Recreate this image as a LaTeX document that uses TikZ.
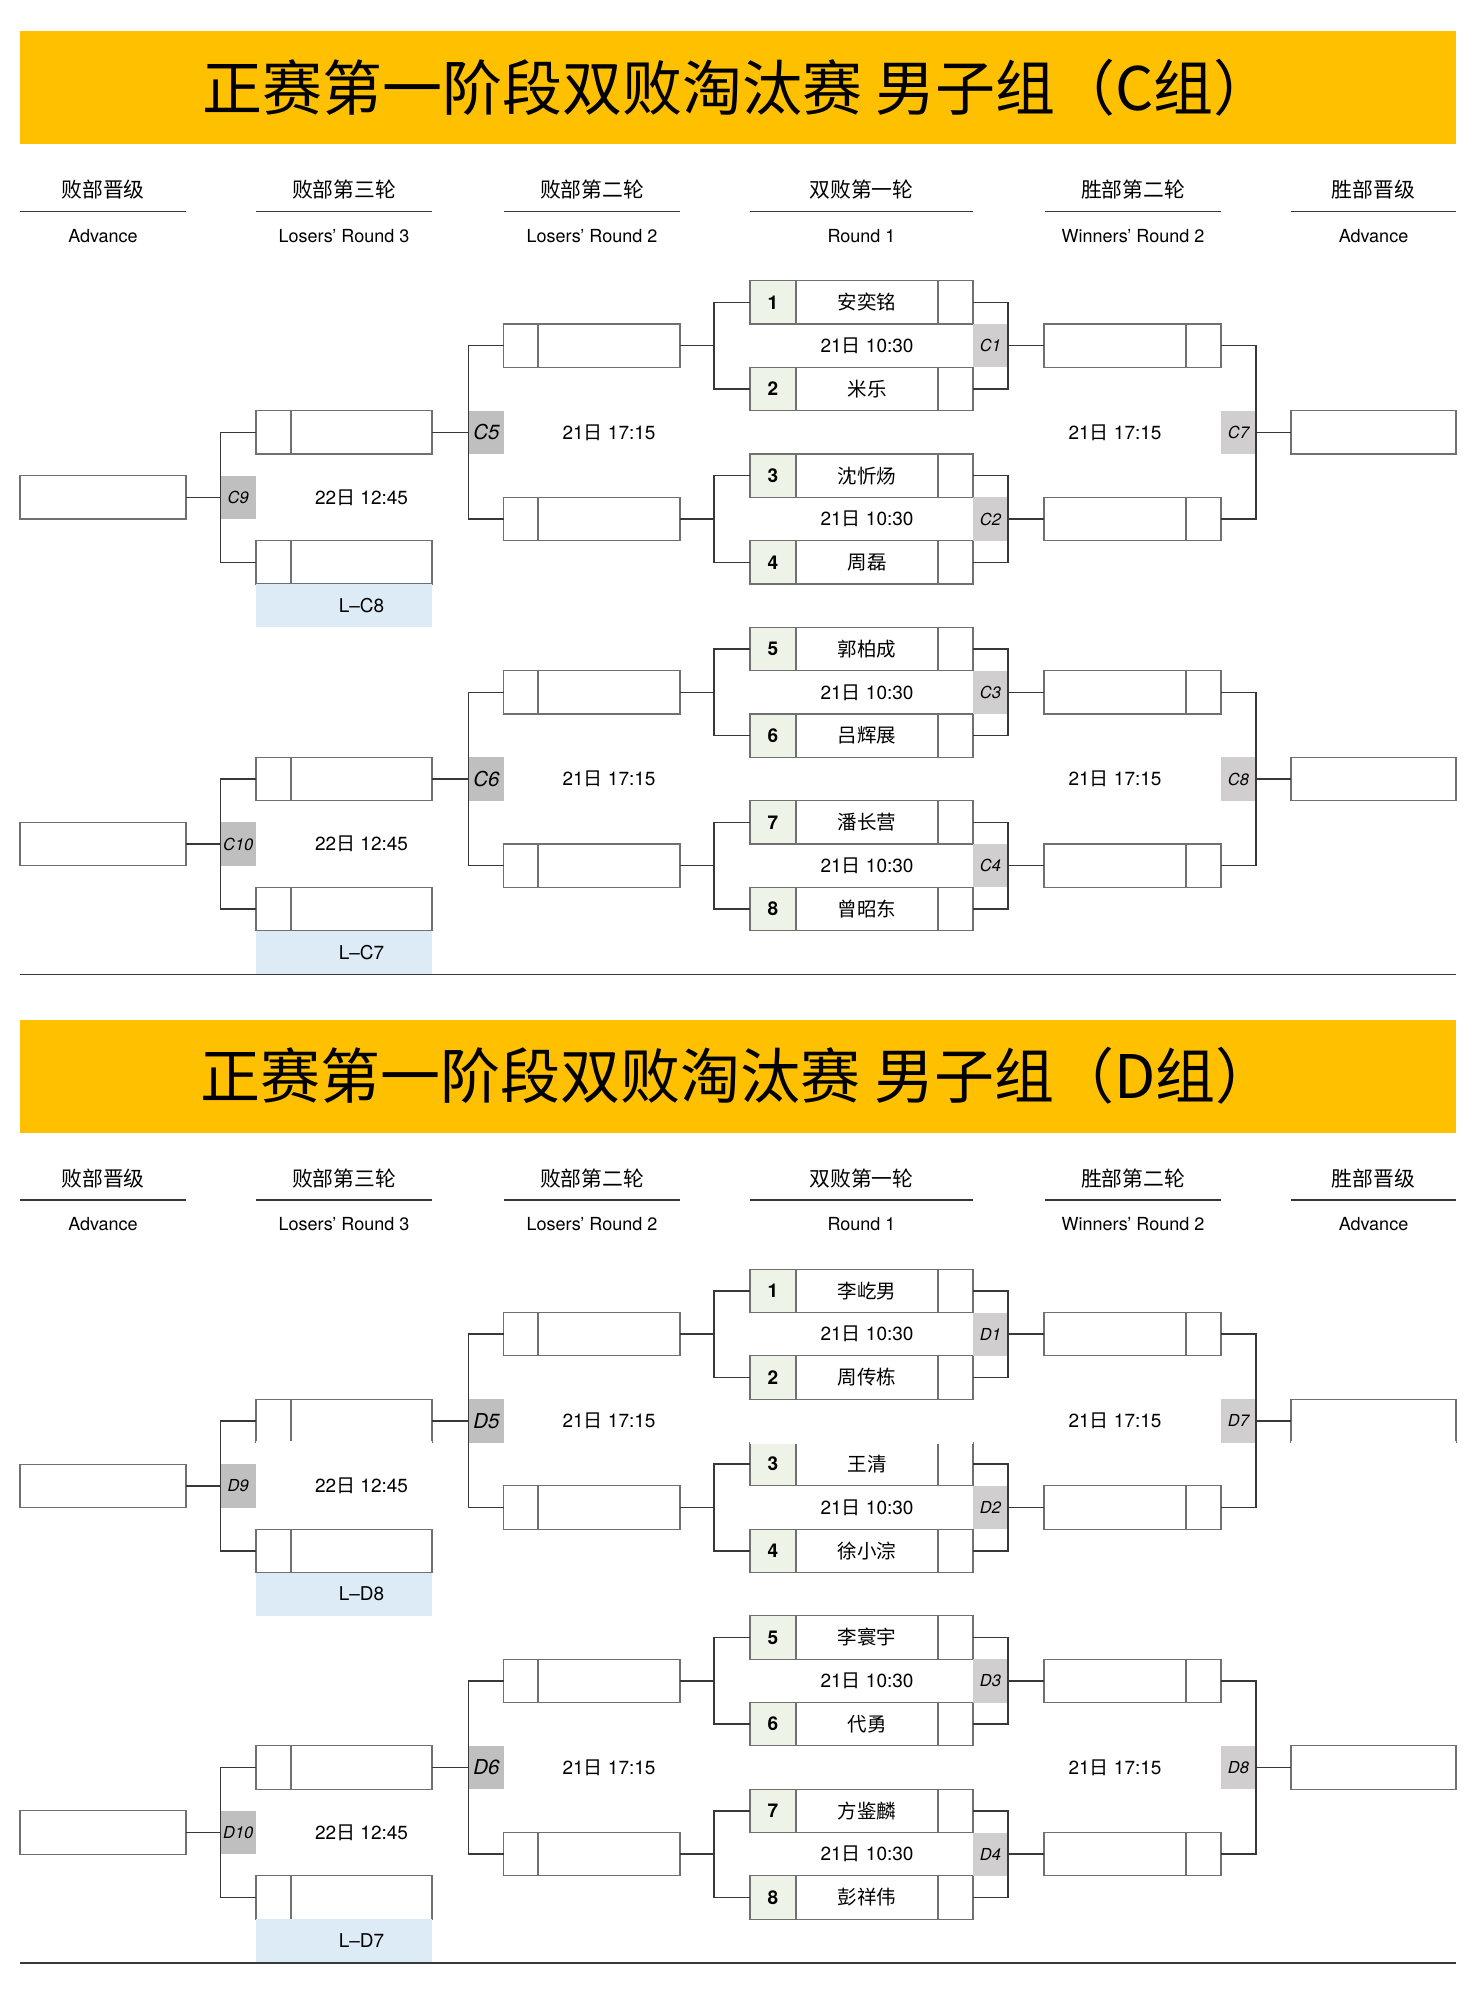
\documentclass[tikz,border=0pt]{standalone}
\usepackage{fontspec}
\setmainfont{TeX Gyre Heros}
\newfontfamily\cjk{Noto Sans CJK SC}
\usepackage{tikz}

\definecolor{bannerGold}{HTML}{FFC000}
\definecolor{seedGreen}{HTML}{EDF4E7}
\definecolor{tagLight}{HTML}{D0CECE}
\definecolor{tagDark}{HTML}{BFBFBF}
\definecolor{dropBlue}{HTML}{DDEBF7}
\definecolor{cellLine}{HTML}{707070}
\definecolor{wireInk}{HTML}{383838}

\newcommand{\when}[2]{#1{\cjk 日} #2}

\begin{document}
\begin{tikzpicture}[x=1pt, y=-1pt,
  banner/.style={fill=bannerGold, minimum width=1436pt, minimum height=113pt,
                 inner sep=0pt, font=\cjk\fontsize{60}{60}\selectfont},
  headZh/.style={inner sep=0pt, font=\cjk\fontsize{20.8}{20.8}\selectfont},
  headEn/.style={inner sep=0pt, font=\fontsize{18}{18}\selectfont},
  cell/.style={draw=cellLine, line width=1.1pt, inner sep=0pt, outer sep=0pt,
               minimum height=43.33pt},
  seed/.style={cell, fill=seedGreen, minimum width=46pt, font=\bfseries\fontsize{19}{19}\selectfont},
  player/.style={cell, minimum width=142pt, font=\cjk\fontsize{19.5}{19.5}\selectfont},
  scoreCell/.style={cell, minimum width=35pt},
  dateText/.style={inner sep=0pt, font=\fontsize{19}{19}\selectfont},
  tagW/.style={fill=tagLight, minimum width=35pt, minimum height=43.33pt, inner sep=0pt,
               font=\itshape\fontsize{16.5}{16.5}\selectfont},
  tagL/.style={tagW, fill=tagDark},
  tagBig/.style={tagL, font=\itshape\fontsize{20.5}{20.5}\selectfont},
  drop/.style={fill=dropBlue, minimum width=176pt, minimum height=43.33pt, inner sep=0pt,
               font=\fontsize{19}{19}\selectfont},
  wire/.style={draw=wireInk, line width=1.5pt},
  rule/.style={draw=wireInk, line width=1.5pt},
  gap/.style={draw=white, line width=2.2pt},
]
\useasboundingbox (0,0) rectangle (1478,1998);

\foreach \g/\off/\nl in {C/0/{安奕铭,米乐,沈忻炀,周磊,郭柏成,吕辉展,潘长营,曾昭东},
                         D/988.5/{李屹男,周传栋,王清,徐小淙,李寰宇,代勇,方鉴麟,彭祥伟}}{
\begin{scope}[shift={(0,\off)}]
  % banner and column heads
  \node[banner] (\g title) at (738,87.5) {正赛第一阶段双败淘汰赛 男子组（\g 组）};
  \foreach \xa/\xb/\zh/\en [count=\j] in {20/186/败部晋级/Advance, 256/432/败部第三轮/Losers' Round 3,
      504/680/败部第二轮/Losers' Round 2, 750/973/双败第一轮/Round 1,
      1045/1221/胜部第二轮/Winners' Round 2, 1291/1456/胜部晋级/Advance}{
    \node[headZh] (\g hz\j) at ({(\xa+\xb)/2},190) {\zh};
    \node[headEn] (\g he\j) at ({(\xa+\xb)/2},236) {\en};
    \draw[rule] (\xa,211.5) -- (\xb,211.5);
  }

  % round 1 players
  \foreach \nm [count=\i] in \nl {
    \pgfmathsetmacro\yy{302.33+173.33*int((\i-1)/2)+86.67*mod(\i-1,2)}
    \node[seed] (\g s\i) at (773,\yy) {\i};
    \node[player] (\g n\i) at (867,\yy) {\nm};
    \node[scoreCell] (\g x\i) at (955.5,\yy) {};
  }

  % round 1 matches, winners' and losers' round 2 slots
  \foreach \m in {1,2,3,4}{
    \pgfmathsetmacro\ym{345.67+173.33*(\m-1)}
    \pgfmathtruncatemacro\pone{2*\m-1}
    \pgfmathtruncatemacro\ptwo{2*\m}
    \node[dateText] (\g d\m) at (867,\ym) {\when{21}{10:30}};
    \node[tagW] (\g t\m) at (990.5,\ym) {\g\m};
    \node[player] (\g w\m) at (1115,\ym) {};
    \node[scoreCell] (\g ws\m) at (1203.5,\ym) {};
    \node[scoreCell] (\g ls\m) at (521,\ym) {};
    \node[player] (\g l\m) at (609,\ym) {};
    \coordinate (\g j\m) at (714,\ym);
    \draw[wire] (\g x\pone.east) -| (\g t\m.east) |- (\g x\ptwo.east);
    \draw[wire] (\g t\m.east) -- (\g w\m.west);
    \draw[wire] (\g s\pone.west) -| (\g j\m) |- (\g s\ptwo.west);
    \draw[wire] (\g l\m.east) -- (\g j\m);
  }

  % later rounds, one half at a time
  \foreach \q in {0,1}{
    \pgfmathsetmacro\yq{432.33+346.67*\q}
    \pgfmathsetmacro\yl{\yq+130}
    \pgfmathsetmacro\yf{\yq+65}
    \pgfmathsetmacro\yd{\yq+173.33}
    \pgfmathtruncatemacro\fa{2*\q+1}
    \pgfmathtruncatemacro\fb{2*\q+2}
    \pgfmathtruncatemacro\kW{7+\q}
    \pgfmathtruncatemacro\kL{5+\q}
    \pgfmathtruncatemacro\kF{9+\q}
    \pgfmathtruncatemacro\kD{8-\q}
    % winners' side
    \node[tagW] (\g t\kW) at (1238.5,\yq) {\g\kW};
    \node[cell, minimum width=165pt] (\g adv\q) at (1373.5,\yq) {};
    \node[dateText] (\g wt\q) at (1115,\yq) {\when{21}{17:15}};
    \draw[wire] (\g ws\fa.east) -| (\g t\kW.east) |- (\g ws\fb.east);
    \draw[wire] (\g t\kW.east) -- (\g adv\q.west);
    % losers' round 2 -> round 3
    \node[tagBig] (\g t\kL) at (486.4,\yq) {\g\kL};
    \node[dateText] (\g lt\q) at (609,\yq) {\when{21}{17:15}};
    \node[scoreCell] (\g hs\q) at (273.5,\yq) {};
    \node[player, minimum width=141pt] (\g h\q) at (361.5,\yq) {};
    \node[scoreCell] (\g bs\q) at (273.5,\yl) {};
    \node[player, minimum width=141pt] (\g b\q) at (361.5,\yl) {};
    \node[drop] (\g drop\q) at (344,\yd) {\hspace*{35pt}L--\g\kD};
    \draw[wire] (\g ls\fa.west) -| (\g t\kL.west) |- (\g ls\fb.west);
    \draw[wire] (\g t\kL.west) -- (\g h\q.east);
    % losers' round 3 -> advance
    \node[tagL] (\g t\kF) at (238.25,\yf) {\g\kF};
    \node[dateText] (\g ft\q) at (361.5,\yf) {\when{22}{12:45}};
    \node[cell, minimum width=166pt] (\g fin\q) at (103,\yf) {};
    \draw[wire] (\g hs\q.west) -| (\g t\kF.west) |- (\g bs\q.west);
    \draw[wire] (\g t\kF.west) -- (\g fin\q.east);
  }
  \draw[rule] (20,974.3) -- (1456,974.3);
\end{scope}
}

% missing edges in the D half
\foreach \xa/\xb in {256/432, 750/973, 1291/1456}
  \draw[gap] (\xa,1442.5) -- (\xb,1442.5);
\end{tikzpicture}
\end{document}
